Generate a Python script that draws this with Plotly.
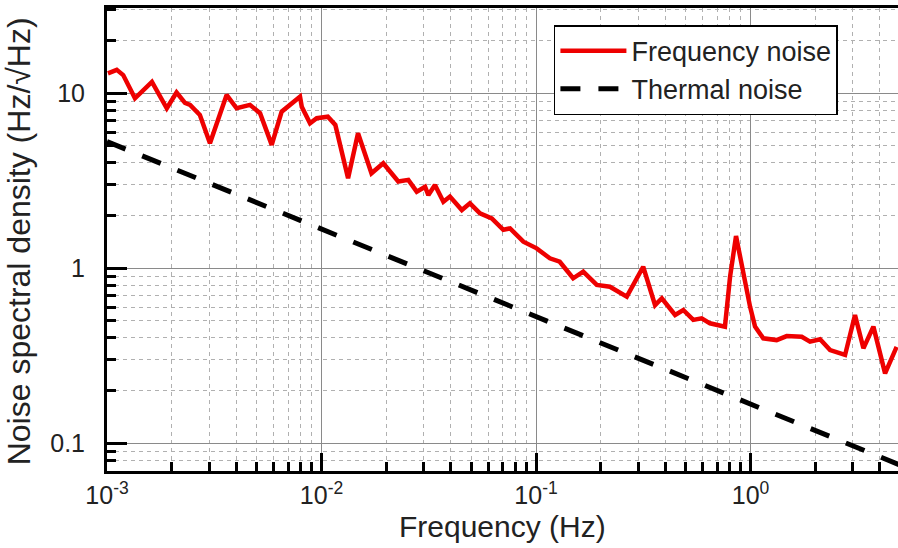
import plotly.graph_objects as go

# Measured frequency-noise spectrum (Hz) and its spectral density (Hz/sqrt(Hz))
freq_hz = [
    0.00101, 0.00111, 0.00119, 0.00135, 0.00162, 0.00190, 0.00211, 0.00231,
    0.00244, 0.00271, 0.00302, 0.00361, 0.00402, 0.00464, 0.00517, 0.00586,
    0.00652, 0.00713, 0.00794, 0.00809, 0.00884, 0.00950, 0.0107, 0.0116,
    0.0133, 0.0148, 0.0171, 0.0194, 0.0228, 0.0254, 0.0278, 0.0304,
    0.0315, 0.0338, 0.0370, 0.0397, 0.0451, 0.0492, 0.0548, 0.0622,
    0.0704, 0.0757, 0.0873, 0.1007, 0.116, 0.129, 0.149, 0.166,
    0.192, 0.221, 0.265, 0.316, 0.359, 0.386, 0.445, 0.486,
    0.541, 0.592, 0.647, 0.760, 0.803, 0.856, 0.893, 0.995,
    1.05, 1.147, 1.324, 1.475, 1.733, 1.894, 2.11, 2.35,
    2.76, 3.07, 3.36, 3.74, 4.24, 4.80,
]
freq_noise = [
    13.0, 13.6, 12.7, 9.36, 11.6, 8.21, 10.1, 8.80,
    8.58, 7.52, 5.18, 9.78, 8.21, 8.58, 7.69, 5.07,
    7.85, 8.58, 9.56, 8.38, 6.74, 7.20, 7.35, 6.59,
    3.27, 5.91, 3.49, 3.98, 3.13, 3.20, 2.74, 2.92,
    2.62, 2.99, 2.40, 2.57, 2.15, 2.35, 2.06, 1.93,
    1.66, 1.69, 1.42, 1.30, 1.14, 1.09, 0.877, 0.956,
    0.803, 0.785, 0.689, 1.02, 0.616, 0.674, 0.541, 0.578,
    0.507, 0.518, 0.485, 0.464, 0.895, 1.53, 1.165, 0.604,
    0.464, 0.398, 0.389, 0.410, 0.406, 0.381, 0.393, 0.341,
    0.320, 0.541, 0.349, 0.464, 0.251, 0.356,
]

# Thermal-noise floor
thermal_freq_hz = [0.001, 0.01, 0.1, 1.0, 5.0]
thermal_noise = [5.3, 1.68, 0.53, 0.168, 0.075]

# Axis ticks
x_ticks = [0.001, 0.01, 0.1, 1.0]
x_tick_labels = ["10<sup>-3</sup>", "10<sup>-2</sup>", "10<sup>-1</sup>", "10<sup>0</sup>"]
y_ticks = [0.1, 1, 10]
y_tick_labels = ["0.1", "1", "10"]

x_minor = [m * 10.0 ** e for e in range(-3, 1) for m in range(2, 10)]
y_minor = [m * 10.0 ** e for e in range(-2, 2) for m in range(2, 10)]

FONT = "Liberation Sans, Arial, sans-serif"
TEXT = "#222222"

fig = go.Figure()
fig.add_trace(go.Scatter(
    x=freq_hz, y=freq_noise, mode="lines", name="Frequency noise",
    line=dict(color="#ee0000", width=4.5),
))
fig.add_trace(go.Scatter(
    x=thermal_freq_hz, y=thermal_noise, mode="lines", name="Thermal noise",
    line=dict(color="black", width=5, dash="20px,18px"),
))

minor_common = dict(ticks="inside", ticklen=9, tickwidth=2.5, tickcolor="black",
                    showgrid=True, gridcolor="#b0b0b0", griddash="4px,4px", gridwidth=1)

fig.update_layout(
    width=898, height=548,
    margin=dict(l=107, r=0, t=8, b=77),
    paper_bgcolor="white", plot_bgcolor="white",
    font=dict(family=FONT, color=TEXT),
    xaxis=dict(
        type="log", range=[-3, 0.6876],
        showline=True, linecolor="black", linewidth=3, mirror=True,
        ticks="inside", ticklen=18, tickwidth=2.5, tickcolor="black",
        tickvals=x_ticks, ticktext=x_tick_labels,
        tickfont=dict(size=25, color=TEXT), ticklabelstandoff=0,
        showgrid=True, gridcolor="#8a8a8a", gridwidth=1.3, zeroline=False,
        minor=dict(tickvals=x_minor, **minor_common),
    ),
    yaxis=dict(
        type="log", range=[-1.158, 1.487],
        showline=True, linecolor="black", linewidth=3, mirror=False,
        ticks="inside", ticklen=20, tickwidth=3, tickcolor="black",
        tickvals=y_ticks, ticktext=y_tick_labels,
        tickfont=dict(size=25, color=TEXT), ticklabelstandoff=14,
        showgrid=True, gridcolor="#8a8a8a", gridwidth=1.3, zeroline=False,
        minor=dict(tickvals=y_minor, **minor_common),
    ),
    legend=dict(
        x=0.565, y=0.963, xanchor="left", yanchor="top",
        bgcolor="white", bordercolor="black", borderwidth=1.5,
        font=dict(family=FONT, size=27, color=TEXT),
        itemwidth=66, tracegroupgap=0,
    ),
    showlegend=True,
    annotations=[
        dict(text="Frequency (Hz)", xref="paper", yref="paper", x=0.5, y=-0.12,
             xanchor="center", yanchor="middle", showarrow=False,
             font=dict(family=FONT, size=30, color=TEXT)),
        dict(text="Noise spectral density (Hz/\u221aHz)", xref="paper", yref="paper",
             x=-0.112, y=0.497, xanchor="center", yanchor="middle", textangle=-90,
             showarrow=False, font=dict(family=FONT, size=32, color=TEXT)),
    ],
)

fig.write_html("out.html")
